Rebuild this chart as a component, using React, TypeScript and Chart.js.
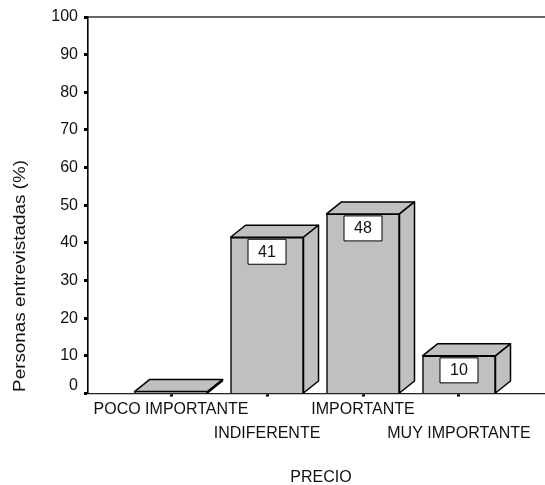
import React, { useEffect, useRef } from "react";
import { Chart, registerables } from "chart.js";

Chart.register(...registerables);

const categories = ["POCO IMPORTANTE", "INDIFERENTE", "IMPORTANTE", "MUY IMPORTANTE"];
const categoryRows = [0, 1, 0, 1];
const positions = [0, 1, 2, 3];
const values = [0.5, 41.5, 47.7, 10];
const labels = ["", "41", "48", "10"];
const yTitle = "Personas entrevistadas (%)";
const xTitle = "PRECIO";

const FONT = "'Liberation Sans', Arial, sans-serif";
const DX = 15;
const DY = 12;

const bar3d = {
  id: "bar3d",
  afterDatasetsDraw(chart: any) {
    const ctx = chart.ctx;
    const bars = chart.getDatasetMeta(0).data;
    ctx.save();
    ctx.strokeStyle = "#000";
    ctx.lineWidth = 1.5;
    ctx.lineJoin = "round";
    bars.forEach((b: any, i: number) => {
      const l = b.x - b.width / 2;
      const r = b.x + b.width / 2;
      const t = b.y;
      const bt = b.base;
      ctx.fillStyle = "#c0c0c0";
      ctx.beginPath();
      ctx.moveTo(l, t);
      ctx.lineTo(l + DX, t - DY);
      ctx.lineTo(r + DX, t - DY);
      ctx.lineTo(r, t);
      ctx.closePath();
      ctx.fill();
      ctx.stroke();
      ctx.beginPath();
      ctx.moveTo(r, t);
      ctx.lineTo(r + DX, t - DY);
      ctx.lineTo(r + DX, bt - DY);
      ctx.lineTo(r, bt);
      ctx.closePath();
      ctx.fill();
      ctx.stroke();
      if (labels[i]) {
        const bw = 38;
        const bh = 25;
        const x = b.x - bw / 2;
        const y = t + 2;
        ctx.fillStyle = "#fff";
        ctx.fillRect(x, y, bw, bh);
        ctx.lineWidth = 1;
        ctx.strokeRect(x, y, bw, bh);
        ctx.lineWidth = 1.5;
        ctx.fillStyle = "#111";
        ctx.font = `16px ${FONT}`;
        ctx.textAlign = "center";
        ctx.textBaseline = "middle";
        ctx.fillText(labels[i], b.x, y + bh / 2 + 0.5);
      }
    });
    ctx.fillStyle = "#111";
    ctx.font = `16px ${FONT}`;
    ctx.textAlign = "center";
    ctx.textBaseline = "middle";
    ctx.fillText(xTitle, 321, 478);
    ctx.translate(20.5, 276);
    ctx.rotate(-Math.PI / 2);
    ctx.scale(1.18, 1);
    ctx.fillText(yTitle, 0, 0);
    ctx.restore();
  },
};

export default function App() {
  const ref = useRef<HTMLCanvasElement>(null);
  useEffect(() => {
    const chart = new Chart(ref.current!, {
      type: "bar",
      data: {
        datasets: [
          {
            data: positions.map((x, i) => ({ x, y: values[i] })),
            backgroundColor: "#c0c0c0",
            borderColor: "#000",
            borderWidth: 1.5,
            barThickness: 73,
          },
        ],
      },
      options: {
        responsive: false,
        animation: false,
        layout: { padding: { left: 0, top: 17, right: 0, bottom: 0 } },
        plugins: { legend: { display: false }, tooltip: { enabled: false } },
        scales: {
          x: {
            type: "linear",
            offset: false,
            min: -0.865,
            max: 3.896,
            afterFit: (s: any) => {
              s.height = 91.5;
            },
            afterBuildTicks: (s: any) => {
              s.ticks = positions.map((value) => ({ value }));
            },
            grid: { offset: false, drawOnChartArea: false, drawTicks: true, tickLength: 3, tickWidth: 3, tickColor: "#000" },
            border: { color: "#222", width: 1.3 },
            ticks: {
              autoSkip: false,
              maxRotation: 0,
              minRotation: 0,
              padding: 1,
              color: "#111",
              font: { family: FONT, size: 16, lineHeight: 1.5 },
              callback: (v: any) => {
                const i = Number(v);
                return categoryRows[i] ? ["", categories[i]] : categories[i];
              },
            },
          },
          y: {
            min: 0,
            max: 100,
            afterFit: (s: any) => {
              s.width = 88;
            },
            grid: {
              drawOnChartArea: false,
              drawTicks: true,
              tickLength: 4,
              tickWidth: 3,
              tickColor: "#000",
            },
            border: { color: "#000", width: 1.6 },
            ticks: {
              stepSize: 10,
              padding: 6,
              color: "#111",
              font: { family: FONT, size: 16, lineHeight: 1 },
              callback: (v: any) => (v === 0 ? ["0", ""] : String(v)),
            },
          },
        },
      },
      plugins: [
        bar3d,
        {
          id: "topLine",
          beforeDatasetsDraw(chart: any) {
            const { ctx, chartArea } = chart;
            ctx.save();
            ctx.strokeStyle = "#333";
            ctx.lineWidth = 1.3;
            ctx.beginPath();
            ctx.moveTo(chartArea.left, chartArea.top);
            ctx.lineTo(chartArea.right, chartArea.top);
            ctx.stroke();
            ctx.restore();
          },
        },
      ],
    } as any);
    return () => chart.destroy();
  }, []);
  return (
    <canvas
      ref={ref}
      width={545}
      height={485}
      style={{ position: "absolute", left: 0, top: 0, display: "block", background: "#fff" }}
    />
  );
}
